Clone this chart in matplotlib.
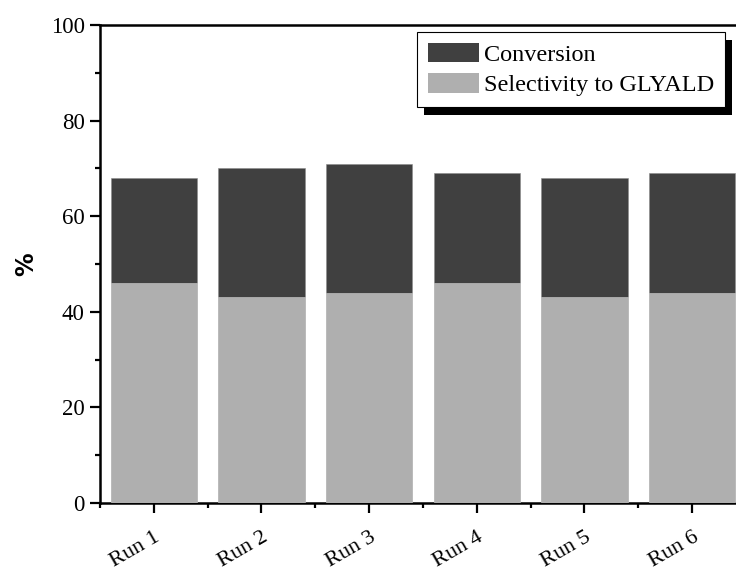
import matplotlib
matplotlib.use("Agg")
import matplotlib.pyplot as plt
from matplotlib.patches import Rectangle, Patch
from matplotlib.ticker import MultipleLocator, FixedLocator
from matplotlib.transforms import IdentityTransform

# --- Data ---
runs = ["Run 1", "Run 2", "Run 3", "Run 4", "Run 5", "Run 6"]
conversion = [68, 70, 71, 69, 68, 69]
selectivity = [46, 43, 44, 46, 43, 44]

dark = "#404040"
light = "#afafaf"

plt.rcParams["font.family"] = ["Liberation Serif", "DejaVu Serif"]

fig = plt.figure(figsize=(7.36, 5.72), dpi=100)
# axes extends past the right edge, as in the cropped original
ax = fig.add_axes([100 / 736, 1 - 503 / 572, 646 / 736, 478 / 572])

x = list(range(1, len(runs) + 1))
ax.bar(x, conversion, width=0.8, color=dark, edgecolor="#8a8a8a", linewidth=0.4, zorder=2)
ax.bar(x, selectivity, width=0.8, color=light, edgecolor="#d0d0d0", linewidth=0.4, zorder=3)

ax.set_xlim(0.5, 6.5)
ax.set_ylim(0, 100)
ax.set_xticks(x)
ax.set_xticklabels(runs, rotation=30, ha="right", rotation_mode="anchor", fontsize=16)
ax.xaxis.set_minor_locator(FixedLocator([i + 0.5 for i in range(0, 7)]))
ax.yaxis.set_major_locator(MultipleLocator(20))
ax.yaxis.set_minor_locator(MultipleLocator(10))
ax.tick_params(axis="y", labelsize=16.5)
ax.tick_params(which="major", direction="out", length=7, width=1.6, pad=4)
ax.tick_params(which="minor", direction="out", length=3.5, width=1.6)
ax.tick_params(axis="x", which="major", pad=11)
for s in ax.spines.values():
    s.set_linewidth(1.8)

ax.set_ylabel("%", fontsize=17, family="DejaVu Sans", fontweight="bold")
ax.yaxis.set_label_coords(-0.096, 0.5)

handles = [Patch(facecolor=dark, label="Conversion"),
           Patch(facecolor=light, label="Selectivity to GLYALD")]
leg = ax.legend(handles=handles, loc="upper left",
                bbox_to_anchor=(417 / 736, 1 - 32 / 572),
                bbox_transform=fig.transFigure, fontsize=17.5,
                fancybox=False, edgecolor="black", framealpha=1,
                handlelength=2.1, handleheight=0.85, handletextpad=0.2,
                labelspacing=0.3, borderpad=0.45, borderaxespad=0)
leg.get_frame().set_linewidth(0.8)

# solid black drop shadow behind the legend box
fig.canvas.draw()
bb = leg.get_window_extent()
shadow = Rectangle((bb.x0 + 7, bb.y0 - 8), bb.width, bb.height,
                   transform=IdentityTransform(), facecolor="black",
                   edgecolor="none", zorder=4.9, clip_on=False)
ax.add_artist(shadow)

fig.savefig("out.png", dpi=100)
